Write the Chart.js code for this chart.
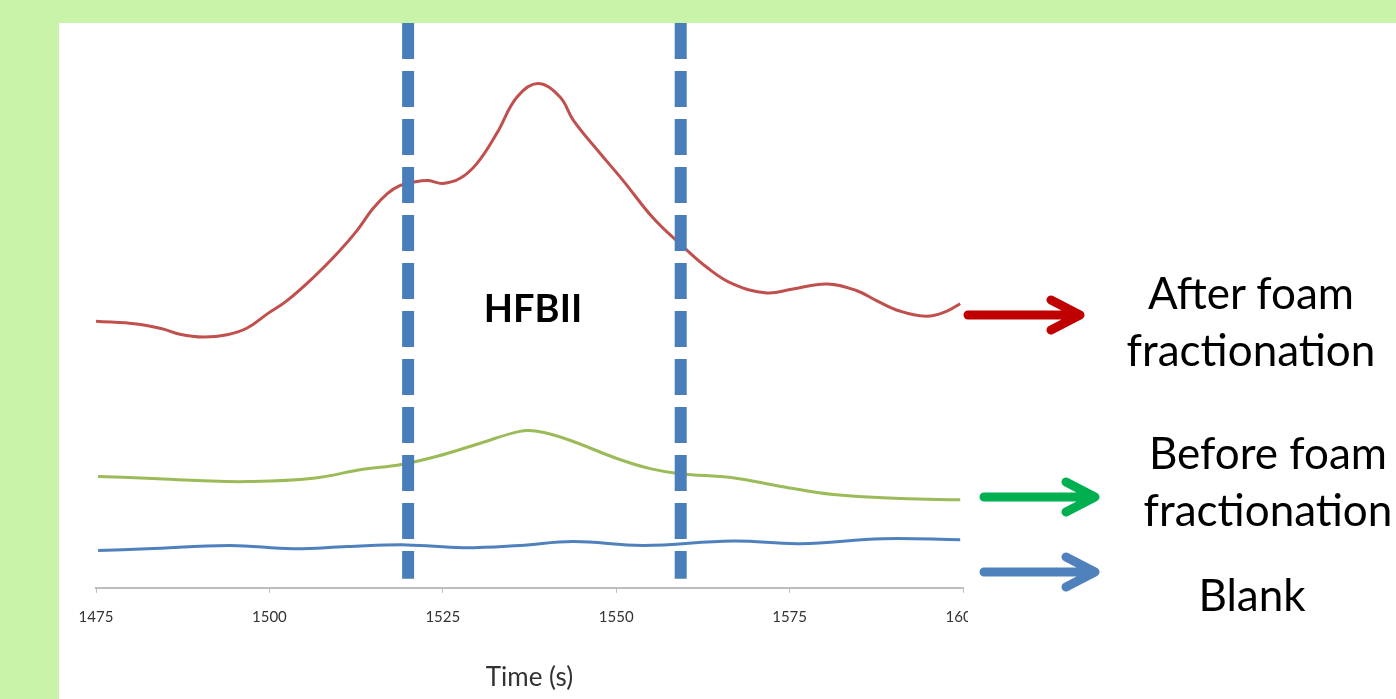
<!DOCTYPE html>
<html>
<head>
<meta charset="utf-8">
<script src="https://cdn.jsdelivr.net/npm/chart.js@4.4.1/dist/chart.umd.min.js"></script>
<style>
    html, body {
        margin: 0;
        padding: 0;
        width: 1396px;
        height: 699px;
        overflow: hidden;
        background: #c8f3a9;
        font-family: Lato, "Open Sans", sans-serif;
    }
    #panel {
        position: absolute;
        left: 59px;
        top: 23px;
        width: 1337px;
        height: 676px;
        background: #ffffff;
    }
    #chartClip {
        position: absolute;
        left: 0;
        top: 0;
        width: 909px;
        height: 676px;
        overflow: hidden;
    }
    #chartBox {
        position: relative;
        width: 940px;
        height: 676px;
    }
    .note {
        position: absolute;
        transform: translateX(-50%);
        white-space: nowrap;
        text-align: center;
        color: #000;
        font-size: 44px;
        line-height: 57px;
    }
    #hfb {
        position: absolute;
        left: 533px;
        top: 288px;
        transform: translateX(-50%);
        font-size: 38px;
        line-height: 38px;
        font-weight: bold;
        color: #000;
    }
    #arrows {
        position: absolute;
        left: 0;
        top: 0;
    }
</style>
</head>
<body>
<div id="panel">
    <div id="chartClip">
        <div id="chartBox"><canvas id="signalChart"></canvas></div>
    </div>
</div>
<div id="hfb">HFBII</div>
<svg id="arrows" width="1396" height="699">
    <g fill="none" stroke-width="9" stroke-linecap="round" stroke-linejoin="round">
        <path d="M968 315 H1076 M1051 300 L1080 315 L1051 330" stroke="#c00000"/>
        <path d="M984 497 H1091 M1066 482 L1095 497 L1066 512" stroke="#00b050"/>
        <path d="M984 572 H1091 M1066 557 L1095 572 L1066 587" stroke="#4f81bd"/>
    </g>
    <rect x="968" y="311" width="6" height="8" fill="#c00000"/>
</svg>
<div class="note" style="left:1251px; top:264px;">After foam<br>fractionation</div>
<div class="note" style="left:1268px; top:424px;">Before foam<br>fractionation</div>
<div class="note" style="left:1252px; top:566px;">Blank</div>

<script>
// time axis (s)
const xMin = 1475;
const xMax = 1600;
const xStep = 25;

// after foam fractionation (red)
const afterTimes = [1475, 1480.9, 1484.7, 1487.1, 1490.4, 1493.9, 1496.8, 1499.7, 1502.5, 1506.3,
    1509.7, 1512.6, 1514.9, 1517.0, 1518.8, 1520.7, 1522.9, 1525.0, 1527.5, 1529.9,
    1532.8, 1535.7, 1538.7, 1541.9, 1543.8, 1547.7, 1551.0, 1555.3, 1559.2, 1563.1,
    1566.8, 1571.7, 1575.5, 1580.4, 1584.7, 1587.6, 1590.9, 1594.8, 1597.7, 1599.6];
const afterSignal = [47.2, 46.7, 45.8, 44.9, 44.4, 44.8, 46.0, 48.5, 50.8, 54.9,
    59.1, 63.2, 67.1, 69.8, 71.2, 71.8, 72.1, 71.6, 72.5, 75.1,
    80.5, 86.9, 89.3, 86.9, 82.8, 76.9, 72.1, 65.5, 60.9, 56.7,
    53.8, 52.2, 52.9, 53.8, 52.6, 50.8, 49.0, 48.1, 49.0, 50.3];

// before foam fractionation (green)
const beforeTimes = [1475.3, 1482.4, 1489.6, 1496.8, 1506.3, 1513.5, 1518.8, 1524.2, 1530.4, 1536.1,
    1538.6, 1542.9, 1550.1, 1554.9, 1559.2, 1566.8, 1574.0, 1581.3, 1590.9, 1599.6];
const beforeSignal = [19.7, 19.4, 19.0, 18.8, 19.4, 21.0, 21.8, 23.3, 25.6, 27.7,
    27.7, 26.3, 22.9, 21.1, 20.2, 19.5, 17.9, 16.5, 15.8, 15.6];

// blank (blue)
const blankTimes = [1475.3, 1482.4, 1494.3, 1503.4, 1511.2, 1519.8, 1527.9, 1536.1, 1543.8, 1553.9,
    1566.8, 1576.5, 1588.5, 1599.6];
const blankSignal = [6.6, 6.9, 7.5, 6.9, 7.3, 7.6, 7.1, 7.5, 8.2, 7.5,
    8.3, 7.8, 8.7, 8.5];

// HFBII window markers
const windowTimes = [1520.0, 1559.3];
const markerTop = 100;
const markerBottom = 1.6;

function toPoints(xs, ys) {
    return xs.map((x, i) => ({ x: x, y: ys[i] }));
}

function curve(label, xs, ys, color) {
    return {
        label: label,
        data: toPoints(xs, ys),
        borderColor: color,
        borderWidth: 3,
        pointRadius: 0,
        tension: 0.4,
        fill: false,
        order: 1,
    };
}

function marker(t) {
    return {
        label: "HFBII window",
        data: [{ x: t, y: markerTop }, { x: t, y: markerBottom }],
        borderColor: "#4a7ebb",
        borderWidth: 12,
        borderDash: [36, 12],
        borderCapStyle: "butt",
        pointRadius: 0,
        tension: 0,
        fill: false,
        clip: false,
        order: 0,
    };
}

Chart.defaults.font.family = "Lato, 'Open Sans', sans-serif";

new Chart(document.getElementById("signalChart"), {
    type: "line",
    data: {
        datasets: [
            curve("After foam fractionation", afterTimes, afterSignal, "#c0504d"),
            curve("Before foam fractionation", beforeTimes, beforeSignal, "#9bbb59"),
            curve("Blank", blankTimes, blankSignal, "#4f81bd"),
            marker(windowTimes[0]),
            marker(windowTimes[1]),
        ],
    },
    options: {
        responsive: true,
        maintainAspectRatio: false,
        animation: false,
        layout: {
            padding: { left: 37, right: 36, top: 0, bottom: 0 },
        },
        plugins: {
            legend: { display: false },
            tooltip: { enabled: false },
        },
        scales: {
            x: {
                type: "linear",
                min: xMin,
                max: xMax,
                grid: {
                    drawOnChartArea: false,
                    drawTicks: true,
                    tickLength: 5,
                    color: "#bdbdbd",
                },
                border: { color: "#bdbdbd", width: 2 },
                ticks: {
                    stepSize: xStep,
                    padding: 15,
                    color: "#333333",
                    font: { size: 15 },
                    maxRotation: 0,
                    callback: value => String(value),
                },
                title: {
                    display: true,
                    text: "Time (s)",
                    color: "#333333",
                    font: { size: 26 },
                    padding: { top: 21, bottom: 6 },
                },
            },
            y: {
                display: false,
                min: 0,
                max: 100,
            },
        },
    },
});
</script>
</body>
</html>
